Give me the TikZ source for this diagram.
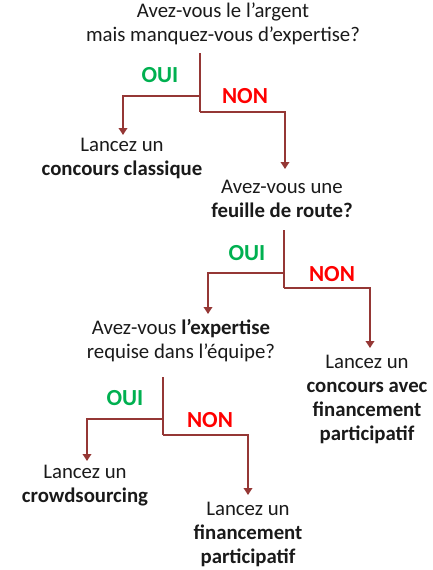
\documentclass[tikz,border=0pt]{standalone}
\usepackage{fontspec}
\setmainfont{Carlito}
\usetikzlibrary{arrows.meta}
\definecolor{linkred}{HTML}{953735}
\definecolor{oui}{HTML}{00B050}
\definecolor{non}{HTML}{FF0000}
\definecolor{txt}{HTML}{1A1A1A}
\begin{document}
\begin{tikzpicture}[x=1pt,y=-1pt,
  txtbox/.style={align=center,inner sep=0pt,anchor=base,text=txt,
    font=\fontsize{20.8}{24}\selectfont},
  ouilbl/.style={inner sep=0pt,anchor=base,text=oui,font=\fontsize{23}{26}\selectfont\bfseries},
  nonlbl/.style={inner sep=0pt,anchor=base,text=non,font=\fontsize{23}{26}\selectfont\bfseries},
  link/.style={draw=linkred,line width=1.8pt},
  arr/.style={link,-{Triangle[width=8.5pt,length=7pt]},shorten >=-1pt}]
\useasboundingbox (0,0) rectangle (433,570);
% texts (anchored at the baseline of their last line)
\node[txtbox] (q1) at (223,41) {Avez-vous le l’argent\\mais manquez-vous d’expertise?};
\node[txtbox] (a1) at (122,175) {Lancez un\\\textbf{concours classique}};
\node[txtbox] (q2) at (282,217) {Avez-vous une\\\textbf{feuille de route?}};
\node[txtbox] (q3) at (181,358) {Avez-vous \textbf{l’expertise}\\requise dans l’équipe?};
\node[txtbox] (a4) at (367,440) {Lancez un\\\textbf{concours avec}\\\textbf{financement}\\\textbf{participatif}};
\node[txtbox] (a5) at (85,502) {Lancez un\\\textbf{crowdsourcing}};
\node[txtbox] (a6) at (248,563) {Lancez un\\\textbf{financement}\\\textbf{participatif}};
% labels
\node[ouilbl] (l1o) at (160,82) {OUI};
\node[nonlbl] (l1n) at (245,103) {NON};
\node[ouilbl] (l2o) at (247,260) {OUI};
\node[nonlbl] (l2n) at (332,281) {NON};
\node[ouilbl] (l3o) at (125,405) {OUI};
\node[nonlbl] (l3n) at (210,427) {NON};
% decision 1
\coordinate (s1) at (200,53);
\coordinate (o1) at (200,96);
\coordinate (n1) at (200,112);
\coordinate (e1o) at (123,134);
\coordinate (e1n) at (285,168);
\draw[link] (s1) -- (n1);
\draw[arr] (o1) -| (e1o);
\draw[arr] (n1) -| (e1n);
% decision 2
\coordinate (s2) at (284,230);
\coordinate (o2) at (284,273);
\coordinate (n2) at (284,288);
\coordinate (e2o) at (208,313);
\coordinate (e2n) at (370,347);
\draw[link] (s2) -- (n2);
\draw[arr] (o2) -| (e2o);
\draw[arr] (n2) -| (e2n);
% decision 3
\coordinate (s3) at (163,377);
\coordinate (o3) at (163,419);
\coordinate (n3) at (163,435);
\coordinate (e3o) at (87,460);
\coordinate (e3n) at (248,494);
\draw[link] (s3) -- (n3);
\draw[arr] (o3) -| (e3o);
\draw[arr] (n3) -| (e3n);
\end{tikzpicture}
\end{document}
